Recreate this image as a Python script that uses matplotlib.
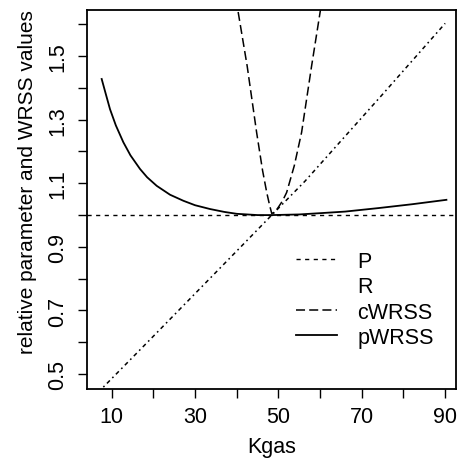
import matplotlib
matplotlib.use("Agg")
import matplotlib.pyplot as plt
from matplotlib.lines import Line2D

plt.rcParams['font.family'] = ['Liberation Sans', 'DejaVu Sans']
plt.rcParams['lines.scale_dashes'] = False

# Data
kgas_P = [4.0, 93.0]
P_vals = [1.0, 1.0]

kgas_R = [8.0, 20.0, 30.0, 40.0, 48.4, 56.4, 64.3, 75.0, 89.4, 90.0]
R_vals = [0.459, 0.619, 0.753, 0.887, 1.0, 1.107, 1.223, 1.380, 1.594, 1.603]

kgas_c = [39.8, 40.35, 42.5, 44.77, 46.2, 47.2, 47.9, 48.4, 49.2, 50.0, 51.0, 51.97, 53.8, 55.56, 57.96, 60.0, 60.5]
cWRSS_vals = [1.68, 1.638, 1.469, 1.260, 1.140, 1.071, 1.030, 1.005, 1.010, 1.025, 1.045, 1.071, 1.155, 1.260, 1.469, 1.638, 1.68]

kgas_p = [7.6, 8.5, 9.6, 11.0, 12.8, 14.5, 16.8, 18.5, 20.8, 24.0, 27.2, 30.0, 33.6, 37.0,
          40.0, 45.0, 48.4, 55.0, 60.0, 66.0, 74.0, 82.0, 90.3]
pWRSS_vals = [1.428, 1.385, 1.333, 1.282, 1.229, 1.188, 1.145, 1.119, 1.092, 1.064, 1.045, 1.031,
              1.019, 1.010, 1.004, 1.0, 1.0, 1.002, 1.006, 1.011, 1.022, 1.034, 1.048]

x_ticks = [10, 20, 30, 40, 50, 60, 70, 80, 90]
x_labels = ['10', '', '30', '', '50', '', '70', '', '90']
y_ticks = [0.5, 0.6, 0.7, 0.8, 0.9, 1.0, 1.1, 1.2, 1.3, 1.4, 1.5, 1.6]
y_labels = ['0.5', '', '0.7', '', '0.9', '', '1.1', '', '1.3', '', '1.5', '']

fig = plt.figure(figsize=(4.6, 4.6), dpi=100)
ax = fig.add_axes([87/460, 1-390/460, (456-87)/460, (390-11)/460])

lP, = ax.plot(kgas_P, P_vals, color='black', lw=1.0, linestyle=(0, (3, 3.2)))
lR, = ax.plot(kgas_R, R_vals, color='black', lw=1.1, linestyle=(0, (1.2, 2.5, 3, 2.5)))
lc, = ax.plot(kgas_c, cWRSS_vals, color='black', lw=1.1, linestyle=(0, (6.5, 3)))
lp, = ax.plot(kgas_p, pWRSS_vals, color='black', lw=1.3)

ax.set_xlim(4.08, 92.6)
ax.set_ylim(0.453, 1.645)

ax.set_xticks(x_ticks)
ax.set_xticklabels(x_labels)
ax.set_yticks(y_ticks)
ax.set_yticklabels(y_labels, rotation=90, va='center')
ax.tick_params(axis='both', direction='out', length=6.5, width=1.0, labelsize=15.5, color='black')
ax.tick_params(axis='x', pad=6)
ax.tick_params(axis='y', pad=7)

for s in ax.spines.values():
    s.set_linewidth(1.3)

ax.set_xlabel('Kgas', fontsize=15.5, va='center')
ax.xaxis.set_label_coords(0.5, (390-448)/379)
ax.set_ylabel('relative parameter and WRSS values', fontsize=15, va='center')
ax.yaxis.set_label_coords((28-87)/369, (390-182)/379)

blank = Line2D([], [], linestyle='none')
leg = ax.legend([lP, blank, lc, lp], ['P', 'R', 'cWRSS', 'pWRSS'],
                loc='upper left', bbox_to_anchor=((296-87)/369, (390-252)/379),
                frameon=False, fontsize=15.5, handlelength=1.9, handletextpad=0.95,
                labelspacing=0.2, borderpad=0, borderaxespad=0)

fig.savefig('out.png', dpi=100)
